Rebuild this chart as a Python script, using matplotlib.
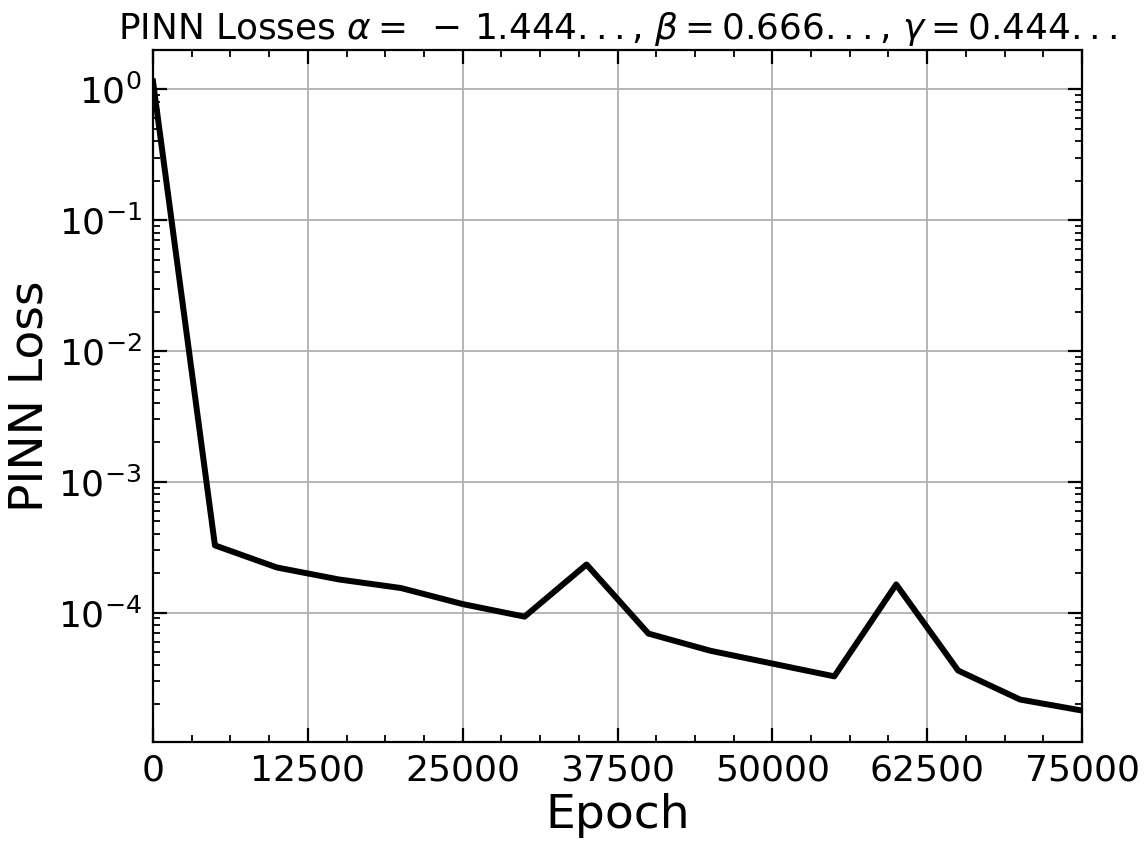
import matplotlib
matplotlib.use("Agg")
import matplotlib.pyplot as plt
from matplotlib.ticker import AutoMinorLocator, MultipleLocator

epochs = [0, 5000, 10000, 15000, 20000, 25000, 30000, 35000, 40000,
          45000, 50000, 55000, 60000, 65000, 70000, 75000]
losses = [1.15, 3.26e-4, 2.21e-4, 1.79e-4, 1.54e-4, 1.16e-4, 9.3e-5, 2.33e-4,
          6.9e-5, 5.1e-5, 4.07e-5, 3.25e-5, 1.64e-4, 3.6e-5, 2.16e-5, 1.78e-5]

title = r"PINN Losses $\alpha =\;-\,1.444...$, $\beta = 0.666...$, $\gamma = 0.444...$"

fig = plt.figure(figsize=(11.48, 8.47), dpi=100)
ax = fig.add_axes([153/1148, 1-742/847, (1082-153)/1148, (742-50)/847])
ax.plot(epochs, losses, color="black", lw=4.3)
ax.set_yscale("log")
ax.set_xlim(0, 75000)
ax.xaxis.set_major_locator(MultipleLocator(12500))
ax.xaxis.set_minor_locator(AutoMinorLocator(4))
ax.grid(True, which="major", color="#b0b0b0", lw=1.3)
ax.set_axisbelow(True)
ax.tick_params(which="both", direction="in", top=True, right=True, labelsize=26, pad=8)
ax.tick_params(which="major", length=10, width=1.6)
ax.tick_params(which="minor", length=5, width=1.3)
for s in ax.spines.values():
    s.set_linewidth(1.6)
ax.set_xlabel("Epoch", fontsize=34)
ax.set_ylabel("PINN Loss", fontsize=34)
ax.set_title(title, fontsize=25.8, pad=8)
fig.savefig("out.png", dpi=100)
